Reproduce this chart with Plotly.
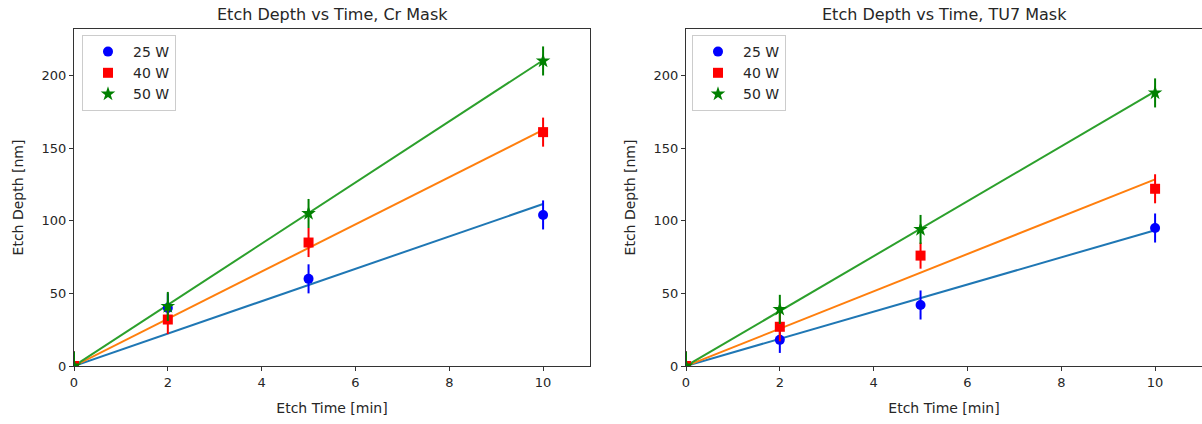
import plotly.graph_objects as go

# ---------------- data ----------------
time_min = [0, 2, 5, 10]
powers = ["25 W", "40 W", "50 W"]

# Cr mask
cr_25 = [0, 40, 60, 104]
cr_40 = [0, 32, 85, 161]
cr_50 = [0, 41, 105, 210]
# TU7 mask
tu7_25 = [0, 18, 42, 95]
tu7_40 = [0, 27, 76, 122]
tu7_50 = [0, 39, 94, 188]

err_cr_25 = [10, 10, 10, 10]
err_cr_40 = [10, 10, 10, 10]
err_cr_50 = [10, 10, 10, 10]
err_tu7_25 = [10, 9, 10, 10]
err_tu7_40 = [10, 10, 9, 10]
err_tu7_50 = [10, 10, 10, 10]

# linear fit lines (through origin), end-points
fit_x = [0, 10]
fit_cr_25 = [0, 111.5]
fit_cr_40 = [0, 162.5]
fit_cr_50 = [0, 210.5]
fit_tu7_25 = [0, 93.5]
fit_tu7_40 = [0, 128.5]
fit_tu7_50 = [0, 189.0]

titles = ["Etch Depth vs Time, Cr Mask", "Etch Depth vs Time, TU7 Mask"]
x_label = "Etch Time [min]"
y_label = "Etch Depth [nm]"
x_ticks = [0, 2, 4, 6, 8, 10]
y_ticks = [0, 50, 100, 150, 200]

# ---------------- style ----------------
W, H = 1202, 424
FONT = "DejaVu Sans"
pt_colors = ["blue", "red", "green"]
pt_symbols = ["circle", "square", "star"]
pt_sizes = [10, 10, 11]
fit_colors = ["#1f77b4", "#ff7f0e", "#2ca02c"]

fig = go.Figure()

panels = [
    ("x", "y", "legend", [cr_25, cr_40, cr_50], [err_cr_25, err_cr_40, err_cr_50],
     [fit_cr_25, fit_cr_40, fit_cr_50]),
    ("x2", "y2", "legend2", [tu7_25, tu7_40, tu7_50], [err_tu7_25, err_tu7_40, err_tu7_50],
     [fit_tu7_25, fit_tu7_40, fit_tu7_50]),
]

for xa, ya, lg, series, errs, fits in panels:
    for i in range(3):
        fig.add_trace(go.Scatter(
            x=fit_x, y=fits[i], mode="lines", xaxis=xa, yaxis=ya,
            line=dict(color=fit_colors[i], width=2), showlegend=False,
            hoverinfo="skip", cliponaxis=True))
    for i in range(3):
        fig.add_trace(go.Scatter(
            x=time_min, y=series[i], mode="markers", name=powers[i],
            xaxis=xa, yaxis=ya, legend=lg,
            marker=dict(color=pt_colors[i], symbol=pt_symbols[i], size=pt_sizes[i],
                        line=dict(width=0)),
            error_y=dict(type="data", array=errs[i], visible=True,
                         color=pt_colors[i], thickness=2, width=0),
            cliponaxis=True))

y_dom = [(H - 366) / H, (H - 29) / H]
x_dom1 = [74 / W, 590 / W]
x_dom2 = [686 / W, 1.0]

axis_common = dict(
    showline=True, mirror=True, linecolor="#333333", linewidth=1,
    ticks="outside", ticklen=4, tickwidth=1, tickcolor="#333333",
    showgrid=False, zeroline=False, automargin=False,
    tickfont=dict(family=FONT, size=13, color="#262626"),
)

fig.update_layout(
    width=W, height=H,
    margin=dict(l=0, r=0, t=0, b=0, autoexpand=False),
    paper_bgcolor="white", plot_bgcolor="white",
    font=dict(family=FONT, size=13, color="#262626"),
    xaxis=dict(domain=x_dom1, range=[0, 11], tickvals=x_ticks, anchor="y",
               title=dict(text=x_label, font=dict(size=14, family=FONT), standoff=14),
               **axis_common),
    yaxis=dict(domain=y_dom, range=[0, 232], tickvals=y_ticks, anchor="x",
               title=dict(text=y_label, font=dict(size=14, family=FONT), standoff=14),
               **axis_common),
    xaxis2=dict(domain=x_dom2, range=[0, 11], tickvals=x_ticks, anchor="y2",
                title=dict(text=x_label, font=dict(size=14, family=FONT), standoff=14),
                **axis_common),
    yaxis2=dict(domain=y_dom, range=[0, 232], tickvals=y_ticks, anchor="x2",
                title=dict(text=y_label, font=dict(size=14, family=FONT), standoff=14),
                **axis_common),
    legend=dict(x=82 / W, y=(H - 35) / H, xanchor="left", yanchor="top",
                bgcolor="rgba(255,255,255,0.8)", bordercolor="#cccccc", borderwidth=1,
                font=dict(family=FONT, size=14, color="#262626"), tracegroupgap=0,
                itemwidth=40),
    legend2=dict(x=692 / W, y=(H - 35) / H, xanchor="left", yanchor="top",
                 bgcolor="rgba(255,255,255,0.8)", bordercolor="#cccccc", borderwidth=1,
                 font=dict(family=FONT, size=14, color="#262626"), tracegroupgap=0,
                 itemwidth=40),
    showlegend=True,
)

for j, t in enumerate(titles):
    dom = x_dom1 if j == 0 else x_dom2
    fig.add_annotation(text=t, x=(dom[0] + dom[1]) / 2, y=(H - 14) / H,
                       xref="paper", yref="paper", showarrow=False,
                       xanchor="center", yanchor="middle",
                       font=dict(family=FONT, size=16, color="#262626"))

fig.write_html("out.html")
